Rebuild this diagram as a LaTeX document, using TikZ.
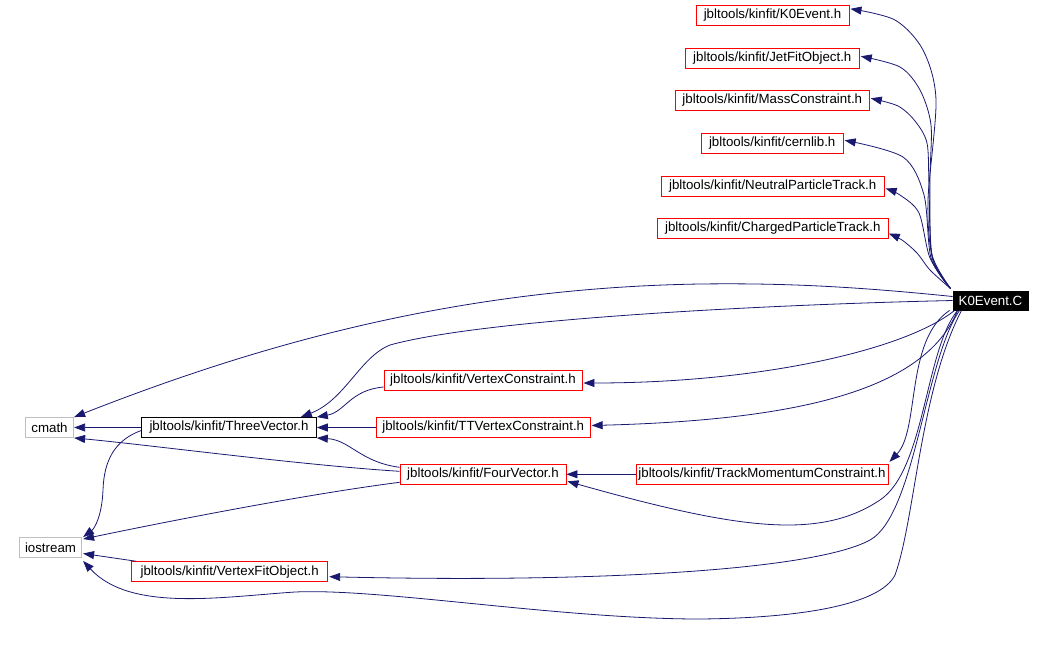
\documentclass[tikz,border=0pt]{standalone}
\usepackage{fontspec}
\setmainfont{Liberation Sans}
\usetikzlibrary{arrows.meta,calc}
\definecolor{edge}{HTML}{191970}
\definecolor{redb}{HTML}{FF0000}
\definecolor{greyb}{HTML}{BFBFBF}
\begin{document}
\begin{tikzpicture}[x=1pt,y=-1pt,
  box/.style={draw=redb,fill=white,line width=0.9pt,inner sep=0pt,minimum height=20pt,font=\fontsize{13.3}{16}\selectfont},
  blackbox/.style={box,draw=black},
  greybox/.style={box,draw=greyb},
  rootbox/.style={box,draw=black,fill=black,text=white,minimum height=19pt},
  dep/.style={draw=edge,line width=0.8pt,-{Triangle[length=11pt,width=8pt]},fill=none}]
\useasboundingbox (0,0) rectangle (1044,665);
% nodes
\node[rootbox,minimum width=75pt] (K0) at (990.5,300.5) {K0Event.C};
\node[box,minimum width=153pt] (K0h) at (772.5,15.3) {jbltools/kinfit/K0Event.h};
\node[box,minimum width=174pt] (Jet) at (772.3,58.3) {jbltools/kinfit/JetFitObject.h};
\node[box,minimum width=194pt] (Mass) at (772.3,100.3) {jbltools/kinfit/MassConstraint.h};
\node[box,minimum width=142pt] (Cern) at (772.2,143.3) {jbltools/kinfit/cernlib.h};
\node[box,minimum width=223pt] (Neut) at (772.7,186.5) {jbltools/kinfit/NeutralParticleTrack.h};
\node[box,minimum width=231pt] (Charg) at (772.8,228.5) {jbltools/kinfit/ChargedParticleTrack.h};
\node[box,minimum width=198pt] (VC) at (483,380) {jbltools/kinfit/VertexConstraint.h};
\node[box,minimum width=214pt] (TT) at (483.2,427.5) {jbltools/kinfit/TTVertexConstraint.h};
\node[box,minimum width=166pt] (FV) at (483,474.3) {jbltools/kinfit/FourVector.h};
\node[box,minimum width=252pt] (TM) at (762,474.3) {jbltools/kinfit/TrackMomentumConstraint.h};
\node[blackbox,minimum width=174.7pt] (TV) at (229,427.5) {jbltools/kinfit/ThreeVector.h};
\node[greybox,minimum width=48.3pt] (cmath) at (49.5,427.5) {cmath};
\node[greybox,minimum width=62.3pt] (io) at (50.5,547.5) {iostream};
\node[box,minimum width=196pt] (VFO) at (229.7,571.7) {jbltools/kinfit/VertexFitObject.h};
% helper end points on the nodes
\coordinate (k0top) at ($(K0.north west)+(-2,-2)$);
\coordinate (tK0h) at ($(K0h.north east)+(1,4)$);
\coordinate (tJet) at ($(Jet.east)+(1,-2)$);
\coordinate (tMass) at ($(Mass.east)+(1,-2)$);
\coordinate (tCern) at ($(Cern.east)+(1,-3)$);
\coordinate (tNeut) at ($(Neut.east)+(1,2)$);
\coordinate (tCharg) at ($(Charg.east)+(0,5)$);
\coordinate (k0io) at ($(K0.south west)+(9,0)$);
\coordinate (tio) at ($(io.south east)+(1,3)$);
% edges from K0Event.C to top headers
\path[dep] plot[smooth] coordinates {(k0top) (932,255) (928,200) (936,100) (923,50) (895,20) (tK0h)};
\path[dep] plot[smooth] coordinates {(k0top) (932,255) (930,180) (931,125) (920,90) (900,67) (tJet)};
\path[dep] plot[smooth] coordinates {(k0top) (932,257) (929,185) (927,143) (915,121) (898,106) (tMass)};
\path[dep] plot[smooth] coordinates {(k0top) (931,258) (924,195) (903,157) (tCern)};
\path[dep] plot[smooth] coordinates {(k0top) (930,258) (919,213) (900,195) (tNeut)};
\path[dep] plot[smooth] coordinates {(k0top) (930,270) (917,253) (902,240) (tCharg)};
% K0Event.C to lower nodes
\path[dep] ($(K0.west)+(0,-4)$) .. controls (850,286) and (780,283) .. (700,284)
  .. controls (450,288) and (250,348) .. (cmath.north east);
\path[dep] (K0.west) .. controls (750,305) and (480,320) .. (390,345)
  .. controls (360,357) and (345,400) .. ($(TV.north east)+(-16,0)$);
\path[dep] ($(K0.south west)+(2,0)$) .. controls (905,350) and (760,383) .. ($(VC.east)+(1,3)$);
\path[dep] ($(K0.south west)+(5,0)$) .. controls (925,390) and (800,420) .. ($(TT.east)+(1,-2)$);
\path[dep] ($(K0.south west)+(-3,0)$) .. controls (905,340) and (920,430) .. ($(TM.north east)+(1,-2)$);
\path[dep] ($(K0.south west)+(5,0)$) .. controls (925,350) and (925,470) .. (880,500)
  .. controls (820,540) and (740,530) .. ($(FV.east)+(1,7)$);
\path[dep] ($(K0.south west)+(7,0)$) .. controls (925,360) and (915,515) .. (870,540)
  .. controls (815,570) and (600,583) .. ($(VFO.east)+(1,5)$);
\path[dep] (k0io) .. controls (920,390) and (915,520) .. (895,575)
  .. controls (880,605) and (800,618) .. (700,619)
  .. controls (560,619) and (380,588) .. (295,592)
  .. controls (220,597) and (130,612) .. (tio);
% other edges
\path[dep] (TV.west) -- (cmath.east);
\path[dep] ($(TV.west)+(0,3)$) .. controls (115,440) and (104,460) .. (103,490)
  .. controls (102,515) and (95,528) .. ($(io.north east)+(1,0)$);
\path[dep] ($(VC.west)+(0,7)$) .. controls (350,390) and (345,412) .. (TV.north east);
\path[dep] (TT.west) -- (TV.east);
\path[dep] ($(FV.west)+(0,-7)$) .. controls (360,462) and (350,440) .. (TV.south east);
\path[dep] ($(FV.west)+(0,-3)$) .. controls (300,465) and (150,445) .. (cmath.south east);
\path[dep] ($(FV.west)+(0,8)$) .. controls (300,495) and (150,525) .. ($(io.north east)+(1,2)$);
\path[dep] (TM.west) -- (FV.east);
\path[dep] ($(VFO.north west)+(5,0)$) -- ($(io.east)+(1,6)$);
\end{tikzpicture}
\end{document}
